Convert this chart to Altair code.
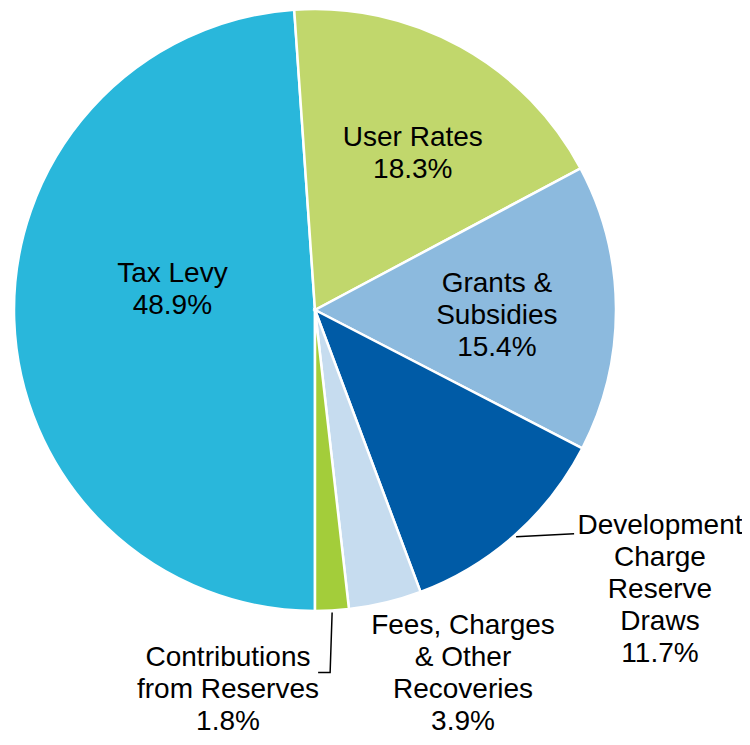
import math
import altair as alt
import pandas as pd

# ---- data ----
categories = [
    "Tax Levy",
    "User Rates",
    "Grants & Subsidies",
    "Development Charge Reserve Draws",
    "Fees, Charges & Other Recoveries",
    "Contributions from Reserves",
]
values = [48.9, 18.3, 15.4, 11.7, 3.9, 1.8]
label_names = [
    ["Tax Levy"],
    ["User Rates"],
    ["Grants &", "Subsidies"],
    ["Development", "Charge", "Reserve", "Draws"],
    ["Fees, Charges", "& Other", "Recoveries"],
    ["Contributions", "from Reserves"],
]
colors = ["#29B7DB", "#C1D76C", "#8CBADE", "#005BA6", "#C6DCEF", "#A3CD3A"]

# ---- layout (label block centres in polar terms, pixels / degrees) ----
W, H = 734, 729
CX, CY = 307, 302          # pie centre inside the view
R = 301                    # pie radius
FS, LH = 28, 32
label_angle_deg = [278.0, 32.1, 91.9, 129.06, 157.87, 192.9]
label_radius = [144, 184, 182, 444.3, 392.9, 389.8]

# Vega anchors multi-line text at its first line: shift each block up
thetas, radii, texts = [], [], []
for names, v, a, r in zip(label_names, values, label_angle_deg, label_radius):
    lines_ = names + [f"{v}%"]
    n = len(lines_)
    ar = math.radians(a)
    px = r * math.sin(ar)
    py = -r * math.cos(ar) - (n - 1) * LH / 2
    thetas.append(math.atan2(px, -py) % (2 * math.pi))
    radii.append(math.hypot(px, py))
    texts.append("\n".join(lines_))

df = pd.DataFrame({
    "category": categories,
    "value": values,
    "idx": list(range(len(categories))),
})

lab = pd.DataFrame({
    "category": categories,
    "label": texts,
    "theta": thetas,
    "radius": radii,
})

# leader lines, starting on the slice edge at the slice's mid angle
total = sum(values)
start = math.pi
mids = []
acc = 0.0
for v in values:
    mids.append(start + 2 * math.pi * (acc + v / 2) / total)
    acc += v

def edge(i, r):
    a = mids[i]
    return CX + r * math.sin(a), CY - r * math.cos(a)

dx0, dy0 = edge(3, R + 2)
cx0, cy0 = edge(5, R + 2)
lines = pd.DataFrame({
    "grp": ["dev", "dev", "con", "con", "con"],
    "o": [0, 1, 0, 1, 2],
    "x": [dx0, dx0 + 58, cx0, cx0 - 2, cx0 - 14],
    "y": [dy0, dy0 - 3, cy0, cy0 + 60, cy0 + 60],
})

color_scale = alt.Scale(domain=categories, range=colors)

pie = alt.Chart(df).mark_arc(
    radius=R, stroke="white", strokeWidth=2.5
).encode(
    theta=alt.Theta("value:Q", stack=True,
                    scale=alt.Scale(range=[math.pi, 3 * math.pi])),
    order=alt.Order("idx:Q"),
    color=alt.Color("category:N", scale=color_scale, legend=None),
    x=alt.value(CX),
    y=alt.value(CY),
)

text = alt.Chart(lab).mark_text(
    font="Liberation Sans", fontSize=FS, lineHeight=LH,
    lineBreak="\n", align="center", baseline="middle", color="black"
).encode(
    theta=alt.Theta("theta:Q", scale=None),
    radius=alt.Radius("radius:Q", scale=None),
    text="label:N",
    x=alt.value(CX),
    y=alt.value(CY),
)

leaders = alt.Chart(lines).mark_line(color="black", strokeWidth=1.5).encode(
    x=alt.X("x:Q", scale=None, axis=None),
    y=alt.Y("y:Q", scale=None, axis=None),
    detail="grp:N",
    order="o:Q",
)

chart = alt.layer(pie, leaders, text).resolve_scale(
    theta="independent", radius="independent"
).properties(
    width=W, height=H, padding=0, autosize=alt.AutoSizeParams(type="none")
).configure_view(stroke=None)

chart.save("out.html", embed_options={"renderer": "svg", "actions": False})
